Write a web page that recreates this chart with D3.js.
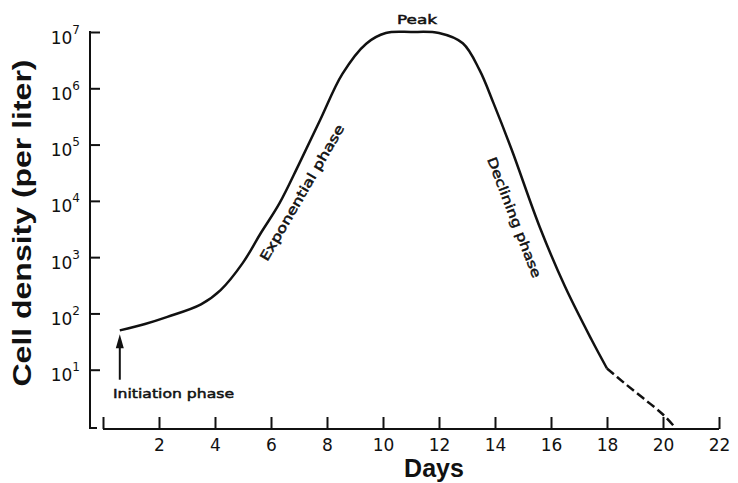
<!DOCTYPE html>
<html>
<head>
<meta charset="utf-8">
<script src="https://cdn.jsdelivr.net/npm/d3@7"></script>
<style>
  html, body { margin: 0; padding: 0; background: #fff; }
  svg { display: block; }
</style>
</head>
<body>
<div id="chart"></div>
<script>
// Bloom growth curve: cell density (log scale) against time in days
const days = [0.6, 1.5, 2.3, 3.5, 4.2, 5.0, 5.6, 6.3, 7.0, 7.75, 8.55, 9.4, 10.1, 11.0, 12.0, 12.85, 13.45, 13.95, 14.6, 15.6, 16.5, 17.45, 18.0];
const density = [50, 65, 87, 145, 260, 800, 2500, 9000, 45000, 2.7e5, 1.8e6, 6.2e6, 9.6e6, 1.0e7, 9.6e6, 6.3e6, 2.1e6, 5.4e5, 8.0e4, 3.4e3, 300, 34, 10.5];
// extrapolated tail of the decline (drawn dashed)
const tailDays = [18.0, 18.6, 19.3, 20.0, 20.45];
const tailDensity = [10.5, 5.9, 3.1, 1.6, 0.92];

const xTicks = [0, 2, 4, 6, 8, 10, 12, 14, 16, 18, 20, 22];
const xTickLabels = ["", "2", "4", "6", "8", "10", "12", "14", "16", "18", "20", "22"];
const yTicks = [1e1, 1e2, 1e3, 1e4, 1e5, 1e6, 1e7];
const yExponents = ["1", "2", "3", "4", "5", "6", "7"];

const W = 738, H = 483;
const ink = "#111";
const letterFont = "'DejaVu Sans', sans-serif";
const titleFont = "'Liberation Sans', Arial, sans-serif";

const svg = d3.select("#chart").append("svg")
  .attr("width", W).attr("height", H);

const x = d3.scaleLinear().domain([0, 22]).range([103, 719]);
const y = d3.scaleLog().domain([1, 1e7]).range([426, 32]);

const axisY = 429;   // baseline of the day axis
const yAxisX = 90;   // position of the density axis

// ---- x axis (ticks point up into the plot)
const gx = svg.append("g")
  .attr("transform", `translate(0,${axisY})`)
  .call(d3.axisBottom(x)
    .tickValues(xTicks)
    .tickSize(-12)
    .tickSizeOuter(0)
    .tickPadding(0)
    .tickFormat((d, i) => xTickLabels[i]));
gx.select(".domain").remove();
gx.selectAll(".tick line").attr("stroke", ink).attr("stroke-width", 2);
gx.selectAll(".tick text")
  .attr("y", 22)
  .attr("dy", 0)
  .attr("fill", ink)
  .style("font-family", letterFont)
  .style("font-size", "17px");
gx.append("line")
  .attr("x1", x(0)).attr("x2", x(22))
  .attr("y1", 0).attr("y2", 0)
  .attr("stroke", ink).attr("stroke-width", 2);

// ---- y axis (ticks point right into the plot)
const gy = svg.append("g")
  .attr("transform", `translate(${yAxisX},0)`)
  .call(d3.axisLeft(y)
    .tickValues(yTicks)
    .tickSize(-10)
    .tickSizeOuter(0)
    .tickFormat(""));
gy.select(".domain").remove();
gy.selectAll(".tick line").attr("stroke", ink).attr("stroke-width", 2);
gy.append("path")
  .attr("d", `M0,${y(1e7) - 1}V${axisY - 1}H7`)
  .attr("fill", "none").attr("stroke", ink).attr("stroke-width", 2);

// decade labels written as powers of ten
const ylab = gy.selectAll(".tick").append("text")
  .attr("text-anchor", "end")
  .attr("x", -10)
  .attr("fill", ink)
  .style("font-family", letterFont);
ylab.append("tspan")
  .attr("dy", 11)
  .style("font-size", "17px")
  .text("10");
ylab.append("tspan")
  .attr("dy", -10)
  .style("font-size", "12px")
  .text((d, i) => yExponents[i]);

// ---- axis titles
svg.append("text")
  .attr("transform", `translate(31,223) rotate(-90)`)
  .attr("text-anchor", "middle")
  .attr("textLength", 327)
  .attr("lengthAdjust", "spacingAndGlyphs")
  .attr("fill", ink)
  .style("font-family", titleFont)
  .style("font-weight", "bold")
  .style("font-size", "25px")
  .text("Cell density (per liter)");

svg.append("text")
  .attr("x", 434).attr("y", 477)
  .attr("text-anchor", "middle")
  .attr("fill", ink)
  .style("font-family", titleFont)
  .style("font-weight", "bold")
  .style("font-size", "25px")
  .text("Days");

// ---- growth curve
const line = d3.line()
  .x(d => x(d[0]))
  .y(d => y(d[1]))
  .curve(d3.curveCatmullRom.alpha(0.5));

svg.append("path")
  .datum(days.map((d, i) => [d, density[i]]))
  .attr("d", line)
  .attr("fill", "none")
  .attr("stroke", ink)
  .attr("stroke-width", 2.5)
  .attr("stroke-linejoin", "round");

svg.append("path")
  .datum(tailDays.map((d, i) => [d, tailDensity[i]]))
  .attr("d", line)
  .attr("fill", "none")
  .attr("stroke", ink)
  .attr("stroke-width", 2.5)
  .attr("stroke-dasharray", "9,4");

// ---- phase annotations
function note(txt, tx, ty, angle, len, anchor) {
  return svg.append("text")
    .attr("transform", `translate(${tx},${ty}) rotate(${angle})`)
    .attr("text-anchor", anchor || "middle")
    .attr("textLength", len)
    .attr("lengthAdjust", "spacingAndGlyphs")
    .attr("fill", ink)
    .attr("stroke", ink)
    .attr("stroke-width", 0.5)
    .style("font-family", letterFont)
    .style("font-size", "13px")
    .text(txt);
}

note("Peak", 417, 24, 0, 40);
note("Exponential phase", 306, 195, -60, 155);
note("Declining phase", 510, 219, 69, 128);
note("Initiation phase", 113, 398, 0, 121, "start");

// arrow pointing at the start of the curve
const ax = x(days[0]);
const tipY = y(density[0]) + 4;
svg.append("line")
  .attr("x1", ax).attr("x2", ax)
  .attr("y1", y(10) + 10).attr("y2", tipY + 10)
  .attr("stroke", ink).attr("stroke-width", 2);
svg.append("path")
  .attr("d", `M${ax},${tipY}L${ax - 4},${tipY + 14}L${ax + 4},${tipY + 14}Z`)
  .attr("fill", ink);
</script>
</body>
</html>
